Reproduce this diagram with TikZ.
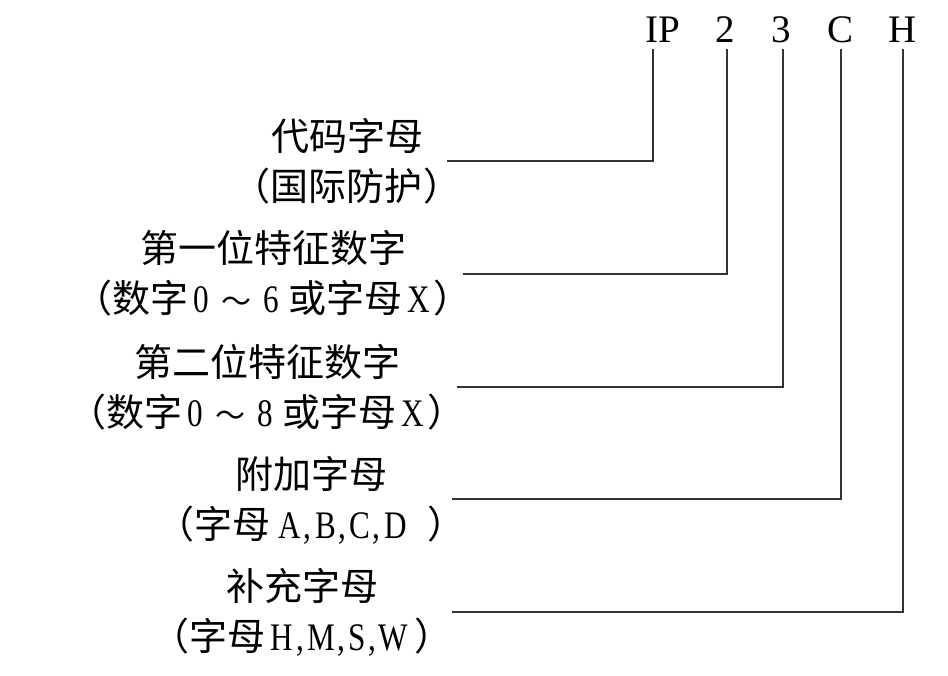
\documentclass[tikz,border=0pt]{standalone}
\usepackage{fontspec}
\setmainfont{Liberation Serif}
\newfontfamily\cjk{Noto Sans CJK SC}
\newfontfamily\latn[FakeStretch=0.8]{Liberation Serif}
\newcommand\zh[1]{{\cjk #1}}
\newcommand\lt[1]{{\latn\fontsize{39}{50}\selectfont #1}}
\newcommand\tld{{\cjk\fontsize{30}{50}\selectfont ～}}
\begin{document}
\begin{tikzpicture}[x=1pt,y=1pt,
  lab/.style={align=center, font=\fontsize{38}{50}\selectfont, inner sep=0pt},
  code/.style={font=\fontsize{39}{40}\selectfont, inner sep=0pt, anchor=base},
  conn/.style={line width=1.1pt, draw=black!80}]
\useasboundingbox (0,0) rectangle (948,675);
% code letters
\node[code] (ip) at (663,632) {IP};
\node[code] (d1) at (725,632) {2};
\node[code] (d2) at (781,632) {3};
\node[code] (ca) at (840,632) {C};
\node[code] (sa) at (903,632) {H};
% labels
\node[lab] (l1) at (347,514) {\zh{代码字母}\\\zh{（国际防护\hspace{2pt}）}};
\node[lab] (l2) at (273,402) {\zh{第一位特征数字}\\\zh{（数字}\hspace{5pt}\lt{0}\hspace{12pt}\tld\hspace{12pt}\lt{6}\hspace{10pt}\zh{或字母}\hspace{5pt}\lt{X}\hspace{3pt}\zh{）}};
\node[lab] (l3) at (267,288) {\zh{第二位特征数字}\\\zh{（数字}\hspace{5pt}\lt{0}\hspace{12pt}\tld\hspace{12pt}\lt{8}\hspace{10pt}\zh{或字母}\hspace{5pt}\lt{X}\hspace{3pt}\zh{）}};
\node[lab] (l4) at (311,175) {\zh{附加字母}\\\zh{（字母}\hspace{8pt}\lt{A\hspace{2pt},\hspace{4pt}B\hspace{2pt},\hspace{4pt}C\hspace{2pt},\hspace{4pt}D}\hspace{20pt}\zh{）}};
\node[lab] (l5) at (302,63) {\zh{补充字母}\\\zh{（字母}\hspace{5pt}\lt{H\hspace{3pt},\hspace{3pt}M\hspace{3pt},\hspace{3pt}S\hspace{3pt},\hspace{2pt}W}\hspace{6pt}\zh{）}};
% connector ends
\coordinate (s1) at (447,514);
\coordinate (s2) at (463,401);
\coordinate (s3) at (457,288);
\coordinate (s4) at (452,176);
\coordinate (s5) at (452,63);
\coordinate (t1) at (653,626);
\coordinate (t2) at (727,626);
\coordinate (t3) at (783,626);
\coordinate (t4) at (841,626);
\coordinate (t5) at (903,626);
\draw[conn] (s1) -| (t1);
\draw[conn] (s2) -| (t2);
\draw[conn] (s3) -| (t3);
\draw[conn] (s4) -| (t4);
\draw[conn] (s5) -| (t5);
\end{tikzpicture}
\end{document}
